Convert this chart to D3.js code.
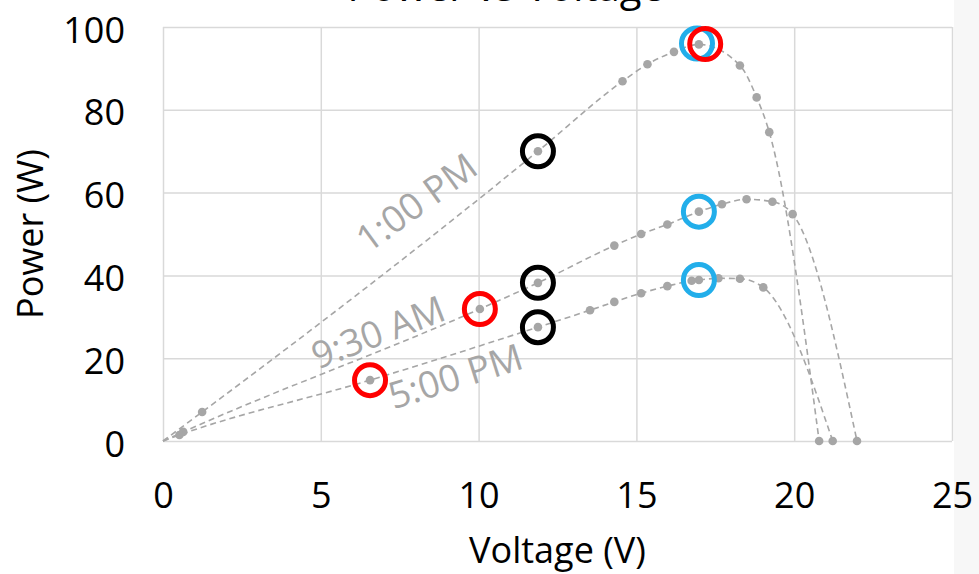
<!DOCTYPE html>
<html>
<head>
<meta charset="utf-8">
<script src="https://cdn.jsdelivr.net/npm/d3@7"></script>
<style>
  body { margin: 0; background: #fff; }
  svg { display: block; font-family: "Open Sans", "DejaVu Sans", sans-serif; }
</style>
</head>
<body>
<div id="graf"></div>
<script>
// datos: voltaje (V) y potencia (W) por hora
var curvas = ['1:00 PM', '9:30 AM', '5:00 PM']
var v1300 = [0, 1.24, 11.88, 14.56, 15.35, 16.19, 16.98, 18.28, 18.81, 19.21, 20.79]
var p1300 = [0, 7.0, 70.0, 86.9, 91.0, 94.0, 95.8, 90.7, 83.0, 74.6, 0]
var v0930 = [0, 0.64, 10.04, 11.88, 14.3, 15.15, 15.98, 16.98, 17.71, 18.49, 19.31, 19.95, 21.99]
var p0930 = [0, 2.2, 31.9, 38.2, 47.2, 50.0, 52.3, 55.4, 57.2, 58.4, 57.8, 54.8, 0]
var v1700 = [0, 0.52, 6.56, 11.88, 13.53, 14.3, 15.15, 15.98, 16.75, 16.98, 17.6, 18.28, 19.02, 21.22]
var p1700 = [0, 1.45, 14.7, 27.5, 31.6, 33.6, 35.7, 37.4, 38.7, 38.9, 39.3, 39.2, 37.1, 0]

// puntos marcados con circulos
var azulV = [16.92, 16.98, 16.98]
var azulP = [96.0, 55.4, 38.9]
var rojoV = [17.18, 10.04, 6.56]
var rojoP = [95.9, 31.9, 14.7]
var negroV = [11.88, 11.88, 11.88]
var negroP = [70.0, 38.2, 27.5]

// ticks de los ejes
var ticksX = [0, 5, 10, 15, 20, 25]
var ticksY = [0, 20, 40, 60, 80, 100]

// etiquetas de cada curva (posicion en unidades de datos y giro)
var etiquetas = [
  { texto: curvas[0], v: 6.5, p: 45.2, giro: -36 },
  { texto: curvas[1], v: 4.9, p: 17.3, giro: -21 },
  { texto: curvas[2], v: 7.3, p: 7.6, giro: -17.5 }
]

var ancho_total = 979, alto_total = 574
var margins = { top: 27, left: 163, right: 27, bottom: 133 }
var ancho = ancho_total - margins.left - margins.right
var alto = alto_total - margins.top - margins.bottom
var gris = '#a6a6a6'

var svg = d3.select('#graf').append('svg')
  .attr('width', ancho_total)
  .attr('height', alto_total)

// franja gris del borde derecho
svg.append('rect')
  .attr('x', 954).attr('y', 0)
  .attr('width', ancho_total - 954).attr('height', alto_total)
  .attr('fill', '#f7f7f7')

// titulo (cortado arriba, como en la captura)
svg.append('text')
  .attr('x', 664).attr('y', 0.5)
  .attr('text-anchor', 'end')
  .attr('font-size', '40px')
  .attr('fill', '#000')
  .text('Power vs Voltage')

var g = svg.append('g')
  .attr('transform', `translate(${ margins.left }, ${ margins.top })`)

var x = d3.scaleLinear().domain([0, 25]).range([0, ancho])
var y = d3.scaleLinear().domain([0, 100]).range([alto, 0])

var xAxisGroup = g.append('g')
  .attr('transform', `translate(0, ${ alto })`)
  .call(d3.axisBottom(x).tickValues(ticksX).tickSize(-alto).tickPadding(41))
var yAxisGroup = g.append('g')
  .call(d3.axisLeft(y).tickValues(ticksY).tickSize(-ancho).tickPadding(38))

;[xAxisGroup, yAxisGroup].forEach(ax => {
  ax.select('.domain').remove()
  ax.selectAll('line').attr('stroke', '#d9d9d9').attr('stroke-width', 1.5)
  ax.selectAll('text')
    .attr('font-family', '"Open Sans", sans-serif')
    .attr('font-size', '36px')
    .attr('fill', '#000')
})
yAxisGroup.selectAll('text').attr('dy', '0.42em')

// titulos de los ejes
svg.append('text')
  .attr('x', margins.left + ancho / 2).attr('y', 563)
  .attr('text-anchor', 'middle')
  .attr('font-size', '36px')
  .text('Voltage (V)')

svg.append('text')
  .attr('transform', `translate(43, ${ margins.top + alto / 2 }) rotate(-90)`)
  .attr('text-anchor', 'middle')
  .attr('font-size', '36px')
  .text('Power (W)')

// curvas
var series = [
  d3.zip(v1300, p1300),
  d3.zip(v0930, p0930),
  d3.zip(v1700, p1700)
]

var linea = d3.line()
  .x(d => x(d[0]))
  .y(d => y(d[1]))
  .curve(d3.curveMonotoneX)

g.selectAll('path.curva')
  .data(series)
  .enter().append('path')
  .attr('class', 'curva')
  .attr('d', linea)
  .attr('fill', 'none')
  .attr('stroke', gris)
  .attr('stroke-width', 1.6)
  .attr('stroke-dasharray', '6,4')

series.forEach(s => {
  g.selectAll(null)
    .data(s.filter(d => d[0] > 0))
    .enter().append('circle')
    .attr('cx', d => x(d[0]))
    .attr('cy', d => y(d[1]))
    .attr('r', 4.3)
    .attr('fill', gris)
})

// circulos marcados
function anillos(vs, ps, color) {
  g.selectAll(null)
    .data(d3.zip(vs, ps))
    .enter().append('circle')
    .attr('cx', d => x(d[0]))
    .attr('cy', d => y(d[1]))
    .attr('r', 15.5)
    .attr('fill', 'none')
    .attr('stroke', color)
    .attr('stroke-width', 5)
}
anillos(negroV, negroP, '#000')
anillos(azulV, azulP, '#22aeea')
anillos(rojoV, rojoP, '#ff0000')

// etiquetas de las curvas
g.selectAll('text.etiqueta')
  .data(etiquetas)
  .enter().append('text')
  .attr('class', 'etiqueta')
  .attr('transform', d => `translate(${ x(d.v) }, ${ y(d.p) }) rotate(${ d.giro })`)
  .attr('font-size', '37px')
  .attr('fill', gris)
  .text(d => d.texto)
</script>
</body>
</html>
